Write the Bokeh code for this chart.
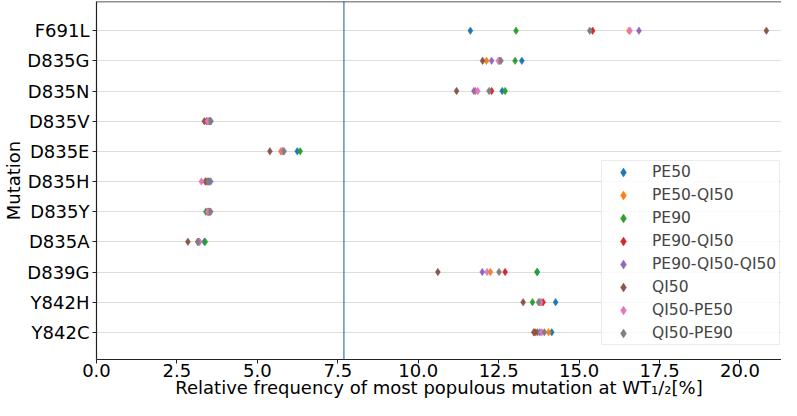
from bokeh.plotting import figure
from bokeh.models import (Range1d, FixedTicker, NumeralTickFormatter, Span,
                          Legend, LegendItem, ColumnDataSource)
from bokeh.embed import file_html
from bokeh.resources import INLINE

mutations = ["F691L", "D835G", "D835N", "D835V", "D835E", "D835H",
             "D835Y", "D835A", "D839G", "Y842H", "Y842C"]

series_names = ["PE50", "PE50-QI50", "PE90", "PE90-QI50", "PE90-QI50-QI50",
                "QI50", "QI50-PE50", "QI50-PE90"]

pe50 = [11.62, 13.22, 12.61, 3.55, 6.24, 3.48, 3.50, 3.35, 13.70, 14.27, 14.15]
pe50_qi50 = [16.55, 12.12, 11.78, 3.48, 5.73, 3.45, 3.50, 3.18, 12.24, 13.82, 14.05]
pe90 = [13.04, 13.01, 12.70, 3.52, 6.33, 3.50, 3.40, 3.38, 13.69, 13.55, 13.70]
pe90_qi50 = [15.42, 12.52, 12.28, 3.42, 5.78, 3.40, 3.48, 3.15, 12.70, 13.88, 13.63]
pe90_qi50_qi50 = [16.86, 12.28, 11.73, 3.50, 5.80, 3.55, 3.52, 3.20, 11.99, 13.78, 13.78]
qi50 = [20.82, 12.00, 11.19, 3.35, 5.39, 3.38, 3.45, 2.84, 10.61, 13.26, 13.59]
qi50_pe50 = [16.58, 12.49, 11.85, 3.45, 5.77, 3.26, 3.46, 3.20, 12.14, 13.80, 13.84]
qi50_pe90 = [15.33, 12.57, 12.20, 3.55, 5.83, 3.46, 3.55, 3.15, 12.51, 13.74, 13.92]

series_values = [pe50, pe50_qi50, pe90, pe90_qi50, pe90_qi50_qi50,
                 qi50, qi50_pe50, qi50_pe90]

colors = ["#1f77b4", "#ff7f0e", "#2ca02c", "#d62728", "#9467bd",
          "#8c564b", "#e377c2", "#7f7f7f"]

threshold = 7.69
x_ticks = [0.0, 2.5, 5.0, 7.5, 10.0, 12.5, 15.0, 17.5, 20.0]

FONT = "DejaVu Sans"
n = len(mutations)
ypos = [n - 1 - i for i in range(n)]  # F691L at top

y_start, y_end = -0.9, 10.967

p = figure(width=781, height=400, output_backend="svg", toolbar_location=None,
           x_range=Range1d(0, 21.29), y_range=Range1d(y_start, y_end),
           min_border_left=80, min_border_right=0, min_border_top=1,
           min_border_bottom=0)
p.outline_line_color = None
p.background_fill_color = "white"
p.border_fill_color = "white"

items = []
for name, vals, col in zip(series_names, series_values, colors):
    src = ColumnDataSource(dict(x=vals, y=ypos))
    r = p.scatter("x", "y", source=src, marker="diamond", size=7.5,
                  fill_color=col, line_color=col, line_width=0.5)
    items.append(LegendItem(label=name, renderers=[r]))

# threshold line
p.add_layout(Span(location=threshold, dimension="height",
                  line_color="#2a6a9e", line_width=1.1))
# top spine
p.add_layout(Span(location=y_end, dimension="width",
                  line_color="#222222", line_width=1.5))

# axes
p.xaxis.ticker = FixedTicker(ticks=x_ticks)
p.xaxis.formatter = NumeralTickFormatter(format="0.0")
p.xaxis.axis_label = "Relative frequency of most populous mutation at WT\u2081/\u2082[%]"
p.yaxis.ticker = FixedTicker(ticks=ypos)
p.yaxis.major_label_overrides = {yv: m for yv, m in zip(ypos, mutations)}
p.yaxis.axis_label = "Mutation"

for ax in (p.xaxis[0], p.yaxis[0]):
    ax.major_label_text_font = FONT
    ax.major_label_text_font_size = "18px"
    ax.major_label_text_color = "black"
    ax.axis_label_text_font = FONT
    ax.axis_label_text_font_size = "18px"
    ax.axis_label_text_font_style = "normal"
    ax.axis_label_text_color = "black"
    ax.axis_line_color = "#222222"
    ax.axis_line_width = 1.2
    ax.major_tick_line_color = "#222222"
    ax.major_tick_out = 4
    ax.major_tick_in = 0
    ax.minor_tick_line_color = None
    ax.major_label_standoff = 3
    ax.axis_label_standoff = 0

p.xaxis.major_label_standoff = 0
p.xaxis.axis_label_standoff = -3

p.xgrid.grid_line_color = None
p.ygrid.ticker = FixedTicker(ticks=ypos)
p.ygrid.grid_line_color = "#dddddd"
p.ygrid.grid_line_width = 1

legend = Legend(items=items, location=(505, 14), margin=0, padding=0,
                spacing=1, label_height=22, glyph_height=22, glyph_width=42,
                label_standoff=8, label_width=127,
                label_text_font=FONT, label_text_font_size="15.5px",
                border_line_color="#d8d8d8", border_line_width=1,
                background_fill_alpha=0.85)
p.add_layout(legend, "center")

open("out.html", "w").write(file_html(p, INLINE))
